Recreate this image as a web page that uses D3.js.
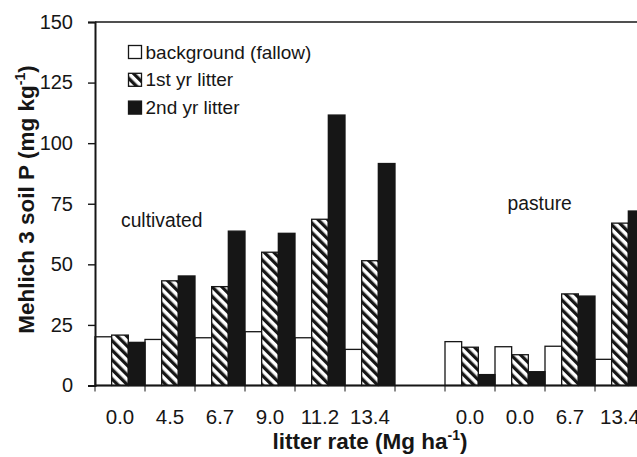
<!DOCTYPE html>
<html>
<head>
<meta charset="utf-8">
<script src="https://cdn.jsdelivr.net/npm/d3@7"></script>
<style>
  html, body { margin: 0; padding: 0; background: #fff; }
  svg { display: block; font-family: "Liberation Sans", Arial, sans-serif; }
</style>
</head>
<body>
<svg id="chart" width="637" height="457"></svg>
<script>
// Litter rate groups (cultivated then pasture; one empty spacer slot)
const categories = ["0.0", "4.5", "6.7", "9.0", "11.2", "13.4", "", "0.0", "0.0", "6.7", "13.4"];
// Mehlich 3 soil P, mg kg-1
const background = [20.1, 19.0, 19.7, 22.2, 19.7, 14.9, null, 18.1, 16.0, 16.2, 10.8];
const firstYr    = [20.8, 43.2, 40.8, 55.0, 68.6, 51.5, null, 15.8, 12.7, 37.8, 67.0];
const secondYr   = [17.8, 45.2, 63.7, 62.8, 111.6, 91.6, null, 4.5, 5.7, 36.9, 72.0];
const seriesNames = ["background (fallow)", "1st yr litter", "2nd yr litter"];
const yTicks = [0, 25, 50, 75, 100, 125, 150];

const ink = "#161616";
const svg = d3.select("#chart");

const plotLeft = 95, plotTop = 22, plotBottom = 385.5, bandW = 50;
const x = d3.scaleBand()
  .domain(d3.range(categories.length))
  .range([plotLeft, plotLeft + bandW * categories.length])
  .paddingInner(0).paddingOuter(0);
const sub = d3.scaleBand().domain([0, 1, 2]).range([0, x.bandwidth()]);
const y = d3.scaleLinear().domain([0, 150]).range([plotBottom, plotTop]);
const xMid = (x.range()[0] + x.range()[1]) / 2;

// diagonal hatch for first-year litter
const defs = svg.append("defs");
const pat = defs.append("pattern")
  .attr("id", "hatch")
  .attr("patternUnits", "userSpaceOnUse")
  .attr("width", 6.8).attr("height", 10)
  .attr("patternTransform", "rotate(-45)");
pat.append("rect").attr("width", 6.8).attr("height", 10).attr("fill", "#fff");
pat.append("rect").attr("x", 0).attr("width", 3.3).attr("height", 10).attr("fill", ink);

const fills = ["#fff", "url(#hatch)", ink];
const series = [background, firstYr, secondYr];

// bars
const plot = svg.append("g");
series.forEach((vals, s) => {
  plot.append("g").selectAll("rect")
    .data(vals.map((v, i) => ({ v, i })).filter(d => d.v != null))
    .join("rect")
    .attr("x", d => x(d.i) + sub(s))
    .attr("y", d => y(d.v))
    .attr("width", sub.bandwidth())
    .attr("height", d => y(0) - y(d.v))
    .attr("fill", fills[s])
    .attr("stroke", ink)
    .attr("stroke-width", 1.3);
});

// top frame line
svg.append("line")
  .attr("x1", plotLeft).attr("x2", 637)
  .attr("y1", y(150)).attr("y2", y(150))
  .attr("stroke", ink).attr("stroke-width", 1.6);

// y axis
const yAxis = svg.append("g")
  .attr("transform", `translate(${plotLeft},0)`)
  .call(d3.axisLeft(y).tickValues(yTicks).tickSize(7).tickPadding(15));
yAxis.select(".domain").attr("stroke", ink).attr("stroke-width", 2);
yAxis.selectAll(".tick line").attr("stroke", ink).attr("stroke-width", 1.4);
yAxis.selectAll(".tick text")
  .attr("fill", ink).style("font-size", "20px")
  .attr("font-family", "Liberation Sans, Arial, sans-serif");

// x axis: ticks at band edges, labels at band centres
const xg = svg.append("g").attr("transform", `translate(0,${plotBottom})`);
xg.append("line").attr("x1", plotLeft).attr("x2", 637)
  .attr("y1", 0).attr("y2", 0).attr("stroke", ink).attr("stroke-width", 2);
const edges = d3.range(categories.length + 1).map(i => plotLeft + i * bandW);
xg.selectAll(".edge").data(edges).join("line")
  .attr("class", "edge")
  .attr("x1", d => d).attr("x2", d => d)
  .attr("y1", 0).attr("y2", 6)
  .attr("stroke", ink).attr("stroke-width", 1);
xg.selectAll(".lab").data(categories.map((c, i) => ({ c, i })).filter(d => d.c))
  .join("text")
  .attr("class", "lab")
  .attr("x", d => x(d.i) + x.bandwidth() / 2)
  .attr("y", 38)
  .attr("text-anchor", "middle")
  .attr("fill", ink)
  .style("font-size", "20.5px")
  .text(d => d.c);

// axis titles
const yt = svg.append("text")
  .attr("transform", "translate(33.5,199.5) rotate(-90)")
  .attr("text-anchor", "middle")
  .attr("fill", ink)
  .style("font-size", "22.5px").style("font-weight", "bold");
yt.append("tspan").text("Mehlich 3 soil P (mg kg");
yt.append("tspan").attr("dy", -9).style("font-size", "14px").text("-1");
yt.append("tspan").attr("dy", 9).text(")");

const xt = svg.append("text")
  .attr("x", xMid).attr("y", 448.5)
  .attr("text-anchor", "middle")
  .attr("fill", ink)
  .style("font-size", "22.5px").style("font-weight", "bold");
xt.append("tspan").text("litter rate (Mg ha");
xt.append("tspan").attr("dy", -9).style("font-size", "14px").text("-1");
xt.append("tspan").attr("dy", 9).text(")");

// legend
const lg = svg.append("g");
seriesNames.forEach((name, s) => {
  const cy = 52 + s * 27.8;
  lg.append("rect")
    .attr("x", 128.5).attr("y", cy - 6.5)
    .attr("width", 13).attr("height", 13)
    .attr("fill", fills[s]).attr("stroke", ink).attr("stroke-width", 1.3);
  lg.append("text")
    .attr("x", 145.5).attr("y", cy + 6.5)
    .attr("fill", ink).style("font-size", "19px")
    .text(name);
});

// group annotations
svg.append("text").attr("x", 121).attr("y", 226.5)
  .attr("fill", ink).style("font-size", "19.3px").text("cultivated");
svg.append("text").attr("x", 507.5).attr("y", 210)
  .attr("fill", ink).style("font-size", "19.3px").text("pasture");
</script>
</body>
</html>
